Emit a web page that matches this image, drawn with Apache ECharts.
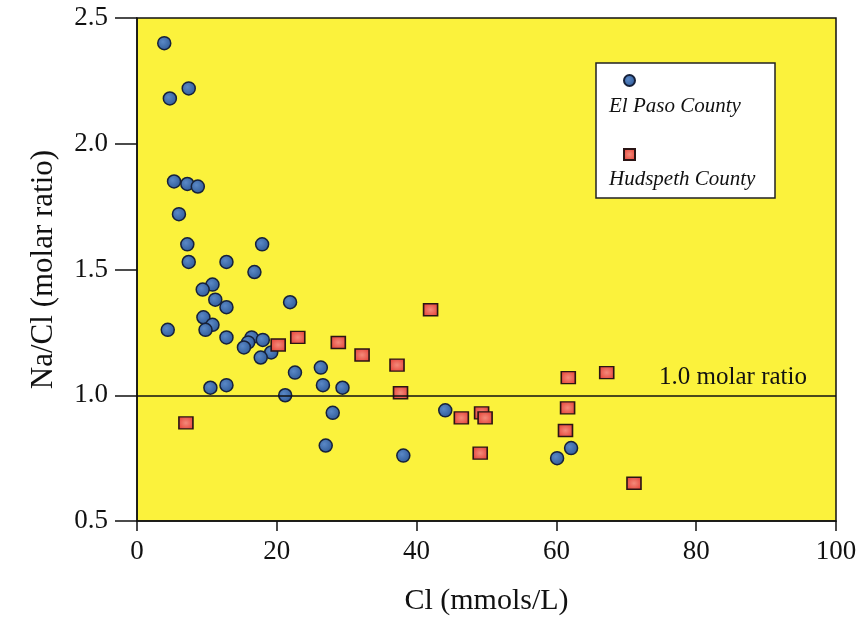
<!DOCTYPE html>
<html>
<head>
<meta charset="utf-8">
<script src="https://cdn.jsdelivr.net/npm/echarts@6/dist/echarts.min.js"></script>
<style>
  html, body { margin: 0; padding: 0; background: #fff; }
  #chart { width: 860px; height: 624px; }
</style>
</head>
<body>
<div id="chart"></div>
<script>
// El Paso County samples: Cl (mmols/L) and Na/Cl molar ratio
var elPasoCl = [3.9, 7.4, 4.7, 5.3, 7.2, 8.7, 6.0, 7.2, 17.9, 7.4, 12.8, 16.8, 10.8, 9.4, 11.2, 12.8, 21.9, 9.5, 10.8, 9.8, 4.4, 12.8, 16.4, 18.0, 15.9, 15.3, 19.2, 17.7, 22.6, 10.5, 12.8, 21.2, 26.3, 26.6, 29.4, 28.0, 27.0, 38.1, 44.1, 62.1, 60.1];
var elPasoRatio = [2.40, 2.22, 2.18, 1.85, 1.84, 1.83, 1.72, 1.60, 1.60, 1.53, 1.53, 1.49, 1.44, 1.42, 1.38, 1.35, 1.37, 1.31, 1.28, 1.26, 1.26, 1.23, 1.23, 1.22, 1.21, 1.19, 1.17, 1.15, 1.09, 1.03, 1.04, 1.00, 1.11, 1.04, 1.03, 0.93, 0.80, 0.76, 0.94, 0.79, 0.75];

// Hudspeth County samples
var hudspethCl = [7.0, 20.2, 23.0, 28.8, 32.2, 37.2, 37.7, 42.0, 46.4, 49.3, 49.8, 49.1, 61.7, 67.2, 61.6, 61.3, 71.1];
var hudspethRatio = [0.89, 1.20, 1.23, 1.21, 1.16, 1.12, 1.01, 1.34, 0.91, 0.93, 0.91, 0.77, 1.07, 1.09, 0.95, 0.86, 0.65];

var seriesNames = ['El Paso County', 'Hudspeth County'];
var refRatio = 1.0;
var refLabel = '1.0 molar ratio';

var xTitle = 'Cl (mmols/L)';
var yTitle = 'Na/Cl (molar ratio)';

function pairs(xs, ys) {
  var out = [];
  for (var i = 0; i < xs.length; i++) out.push([xs[i], ys[i]]);
  return out;
}

var serif = 'Liberation Serif';
var chart = echarts.init(document.getElementById('chart'));

var blueFill = new echarts.graphic.RadialGradient(0.4, 0.4, 0.7, [
  { offset: 0, color: '#5a88c6' },
  { offset: 1, color: '#2a5592' }
]);
var redFill = new echarts.graphic.RadialGradient(0.5, 0.5, 0.7, [
  { offset: 0, color: '#f48a7a' },
  { offset: 1, color: '#e2352c' }
]);

var option = {
  backgroundColor: '#ffffff',
  animation: false,
  grid: {
    left: 137, right: 24, top: 18, bottom: 103,
    show: true,
    backgroundColor: '#fbf23c',
    borderColor: '#111',
    borderWidth: 1.5
  },
  graphic: [{
    type: 'rect',
    z: 1,
    shape: { x: 596, y: 63, width: 179, height: 135 },
    style: { fill: '#ffffff', stroke: '#222', lineWidth: 1.5 }
  }],
  legend: [
    {
      // icons only
      orient: 'vertical',
      left: 623, top: 74,
      padding: 0,
      itemWidth: 11, itemHeight: 11,
      itemGap: 61,
      formatter: function () { return ''; },
      data: seriesNames
    },
    {
      // texts only
      orient: 'vertical',
      left: 603, top: 96,
      padding: 0,
      itemWidth: 0, itemHeight: 22,
      itemGap: 50,
      itemStyle: { opacity: 0 },
      textStyle: { fontFamily: serif, fontStyle: 'italic', fontSize: 21, color: '#111' },
      data: seriesNames
    }
  ],
  xAxis: {
    type: 'value',
    min: 0, max: 100, interval: 20,
    name: xTitle,
    nameLocation: 'middle',
    nameGap: 65,
    nameTextStyle: { fontFamily: serif, fontSize: 30, color: '#111' },
    axisLine: { show: true, lineStyle: { color: '#111', width: 1.5 } },
    axisTick: { show: true, length: 10, lineStyle: { color: '#111', width: 1.5 } },
    axisLabel: { margin: 17, fontFamily: serif, fontSize: 27, color: '#111' },
    splitLine: { show: false }
  },
  yAxis: {
    type: 'value',
    min: 0.5, max: 2.5, interval: 0.5,
    name: yTitle,
    nameLocation: 'middle',
    nameGap: 78,
    nameTextStyle: { fontFamily: serif, fontSize: 31, color: '#111' },
    axisLine: { show: true, lineStyle: { color: '#111', width: 1.5 } },
    axisTick: { show: true, length: 22, lineStyle: { color: '#111', width: 1.5 } },
    axisLabel: {
      margin: 29, fontFamily: serif, fontSize: 27, color: '#111',
      formatter: function (v) { return v.toFixed(1); }
    },
    splitLine: { show: false }
  },
  series: [
    {
      name: seriesNames[0],
      type: 'scatter',
      symbol: 'circle',
      symbolSize: 13,
      z: 3,
      itemStyle: { color: blueFill, borderColor: '#16213a', borderWidth: 1.5, opacity: 1 },
      data: pairs(elPasoCl, elPasoRatio),
      markLine: {
        silent: true,
        symbol: 'none',
        lineStyle: { color: '#111', width: 1.5, type: 'solid' },
        label: {
          position: 'insideEndTop',
          formatter: refLabel,
          fontFamily: serif,
          fontSize: 25,
          color: '#111',
          padding: [0, 24, 0, 0]
        },
        data: [{ yAxis: refRatio }]
      }
    },
    {
      name: seriesNames[1],
      type: 'scatter',
      symbol: 'rect',
      symbolSize: [14, 12],
      z: 3,
      itemStyle: { color: redFill, borderColor: '#2a1414', borderWidth: 1.5, opacity: 1 },
      data: pairs(hudspethCl, hudspethRatio)
    }
  ]
};

chart.setOption(option);
</script>
</body>
</html>
